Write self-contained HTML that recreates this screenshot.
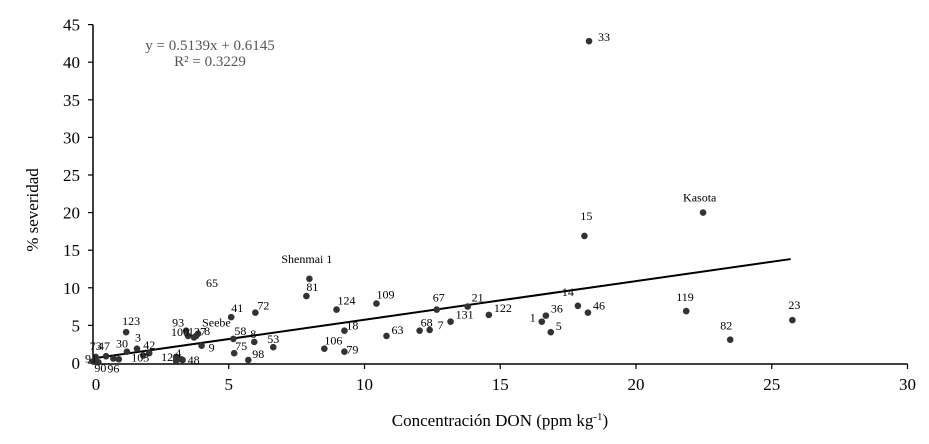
<!DOCTYPE html>
<html><head><meta charset="utf-8"><style>
html,body{margin:0;padding:0;background:#fff;}
svg{display:block;font-family:"Liberation Serif",serif;}
</style></head><body>
<svg id="chart" width="929" height="444" viewBox="0 0 929 444">
<g id="axes"></g>
<g id="marks"></g>
<text x="210" y="50" font-size="15" fill="#555" text-anchor="middle">y = 0.5139x + 0.6145</text>
<text x="210" y="66" font-size="15" fill="#555" text-anchor="middle">R² = 0.3229</text>
<text x="500" y="426" font-size="17" text-anchor="middle">Concentración DON (ppm kg<tspan dy="-6" font-size="11">-1</tspan><tspan dy="6">)</tspan></text>
<text transform="translate(38,210) rotate(-90)" font-size="17" text-anchor="middle">% severidad</text>
</svg>
<script>
const names=["33","Kasota","15","23","82","119","14","46","36","1","5","122","21","131","67","68","7","63","109","124","18","106","79","81","Shenmai 1","53","72","41","58","8","75","98","Seebe","93","100","127","8","9","12","","4","48","123","3","30","42","103","47","73","91","90","96",""];
const xVals=[18.27,22.47,18.1,25.76,23.47,21.85,17.86,18.23,16.68,16.53,16.86,14.58,13.8,13.17,12.66,12.03,12.4,10.81,10.44,8.97,9.26,8.52,9.26,7.86,7.97,6.64,5.98,5.09,5.17,5.94,5.2,5.72,3.87,3.43,3.5,3.72,3.8,4.0,3.06,3.06,3.25,3.3,1.22,1.62,1.25,2.07,1.85,0.48,0.1,0.0,0.2,0.75,0.95];
const yVals=[42.8,20.0,16.9,5.7,3.1,6.9,7.6,6.7,6.3,5.5,4.1,6.4,7.5,5.5,7.1,4.3,4.4,3.6,7.9,7.1,4.3,1.9,1.5,8.9,11.2,2.1,6.7,6.1,3.2,2.8,1.3,0.4,3.9,4.3,3.6,3.4,3.6,2.3,0.8,0.3,0.5,0.4,4.1,1.9,1.5,1.3,1.0,0.9,0.8,0.2,0.1,0.6,0.5];
const xTicks=[0,5,10,15,20,25,30];
const yTicks=[0,5,10,15,20,25,30,35,40,45];
const slope=0.5139, intercept=0.6145, fitMin=0, fitMax=25.7;
const lblOff=[[9,0],[-20,-11],[-4,-16],[-4,-11],[-10,-10],[-10,-10],[-16,-10],[5,-3],[5,-3],[-12,0],[5,-2],[5,-3],[4,-5],[5,-3],[-4,-8],[1,-4],[8,-1],[5,-2],[0,-5],[1,-5],[2,-1],[0,-4],[2,2],[0,-5],[-28,-16],[-6,-4],[2,-3],[0,-5],[1,-4],[-4,-4],[1,-3],[4,-2],[4,-7],[-14,-4],[-17,0],[-6,-2],[8,-1],[7,6],[-15,4],[0,0],[-6,-2],[5,4],[-4,-7],[-2,-7],[-11,-4],[-6,-4],[-12,6],[-8,-6],[-6,-7],[-8,1],[-4,10],[-6,14],[0,0]];
const X=v=>93+v*27.15, Y=v=>363-v*7.52;
const ns="http://www.w3.org/2000/svg";
const axes=document.getElementById('axes'), marks=document.getElementById('marks');
function mk(tag,attrs,parent){const e=document.createElementNS(ns,tag);for(const k in attrs)e.setAttribute(k,attrs[k]);parent.appendChild(e);return e;}
let l=mk('line',{x1:93,y1:Y(45),x2:93,y2:364,stroke:'#000','stroke-width':1.5},axes);


l=mk('line',{x1:93,y1:364,x2:X(30),y2:364,stroke:'#000','stroke-width':1.5},axes);


yTicks.forEach(t=>{
 mk('line',{x1:88,y1:Y(t),x2:93,y2:Y(t),stroke:'#000','stroke-width':1.2},axes);
 const tx=mk('text',{x:80,y:Y(t)+6,'font-size':17,'text-anchor':'end'},axes);tx.textContent=t;
 
 
});
xTicks.forEach(t=>{
 if(t>0)mk('line',{x1:X(t),y1:364,x2:X(t),y2:369,stroke:'#000','stroke-width':1.2},axes);
 const tx=mk('text',{x:X(t)+(t==0?3:0),y:390,'font-size':17,'text-anchor':'middle'},axes);tx.textContent=t;
 
 
});
const fl=mk('line',{x1:X(fitMin),y1:Y(slope*fitMin+intercept),x2:X(fitMax),y2:Y(slope*fitMax+intercept),stroke:'#000','stroke-width':2},marks);


xVals.forEach((x,i)=>{
 const c=mk('circle',{cx:X(x),cy:Y(yVals[i]),r:3.3,fill:'#333'},marks);
 
 
 if(names[i]){
  const o=lblOff[i];
  const t=mk('text',{x:X(x)+o[0],y:Y(yVals[i])+o[1],'font-size':12},marks);
  t.textContent=names[i];
  
  
 }
});
const t65=mk('text',{x:206,y:287,'font-size':12},marks);t65.textContent='65';


</script>
</body></html>
